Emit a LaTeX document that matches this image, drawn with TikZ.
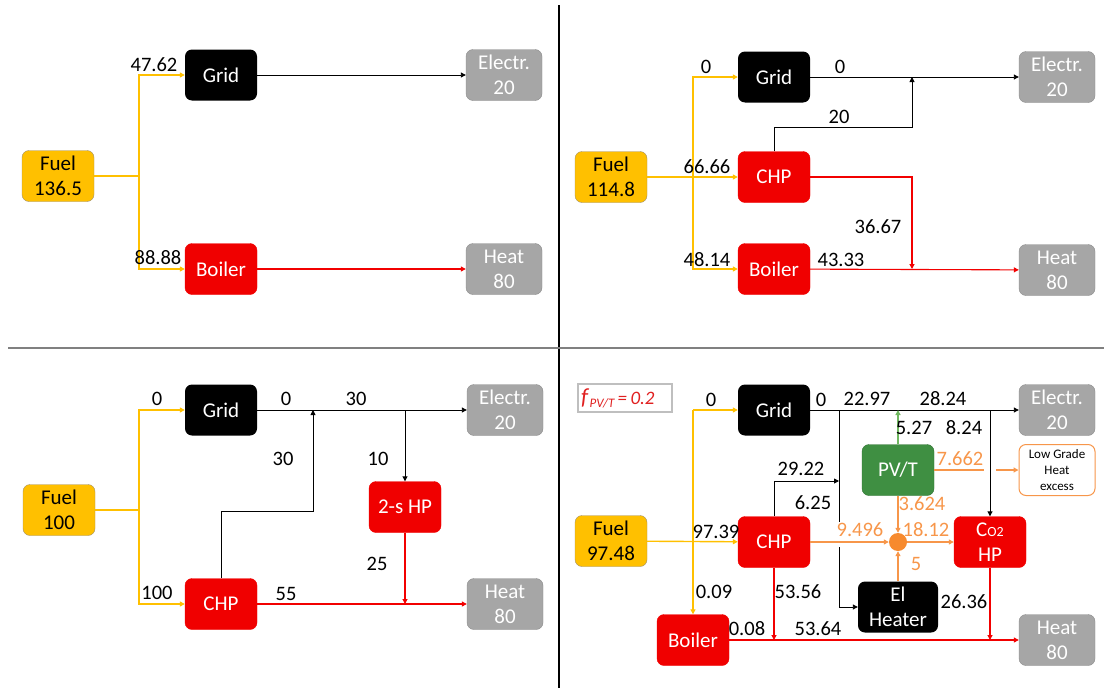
\documentclass[tikz,border=0pt]{standalone}
\usepackage{fontspec}
\setmainfont{Carlito}
\usetikzlibrary{arrows.meta, positioning, calc}

\definecolor{fuelyellow}{HTML}{FFC000}
\definecolor{fuelborder}{HTML}{A0906A}
\definecolor{unitred}{HTML}{F00000}
\definecolor{heatred}{HTML}{F20000}
\definecolor{sinkgray}{HTML}{A6A6A6}
\definecolor{sinkborder}{HTML}{8C8C8C}
\definecolor{pvgreen}{HTML}{3F8F42}
\definecolor{pvborder}{HTML}{2F7032}
\definecolor{pvline}{HTML}{70B860}
\definecolor{lowheat}{HTML}{F7964A}
\definecolor{mixorange}{HTML}{F78A2E}
\definecolor{legendred}{HTML}{E02020}

\begin{document}
\begin{tikzpicture}[x=1pt, y=-1pt,
		box/.style={rectangle, rounded corners=7pt, minimum width=72pt, minimum height=51pt, align=center, inner sep=0pt, font=\fontsize{21}{25}\selectfont},
		fuel/.style={box, fill=fuelyellow, draw=fuelborder, text=black},
		gridbox/.style={box, fill=black, text=white},
		redbox/.style={box, fill=unitred, draw=unitred, text=white},
		sinkbox/.style={box, fill=sinkgray, draw=sinkborder, text=white, minimum width=76pt},
		pvtbox/.style={box, fill=pvgreen, draw=pvborder, text=white},
		excessbox/.style={box, fill=white, draw=lowheat, line width=1pt, minimum width=76pt, font=\fontsize{13}{16}\selectfont},
		mixer/.style={circle, fill=mixorange, minimum size=18pt, inner sep=0pt},
		legendbox/.style={draw=gray!50, line width=1.2pt, minimum height=28pt, inner xsep=3pt, text width=88pt, align=left, text=legendred},
		val/.style={inner sep=0pt, font=\fontsize{20.5}{22}\selectfont},
		oval/.style={val, text=lowheat},
		fuelline/.style={draw=fuelyellow, line width=1.4pt},
		elline/.style={draw=black, line width=0.9pt},
		heatline/.style={draw=heatred, line width=1.1pt},
		lhline/.style={draw=lowheat, line width=1.4pt},
		greenline/.style={draw=pvline, line width=1.2pt},
		arrow/.style={-{Triangle[length=5pt, width=5pt]}}
		]
		\useasboundingbox (0,0) rectangle (1104,688);
		
		% Dividers
		\draw[black, line width=1.3pt] (559,5) -- (559,688);
		\draw[gray, line width=1.3pt] (8,348) -- (1104,348);
		
		% Top left: nodes
		\node[fuel] (fuelA) at (58,176) {Fuel\\136.5};
		\node[gridbox] (gridA) at (221,75) {Grid};
		\node[redbox] (boilerA) at (221,269) {Boiler};
		\node[sinkbox] (elA) at (504,75) {Electr.\\20};
		\node[sinkbox] (heatA) at (504,269) {Heat\\80};
		\coordinate (splitA) at (139,176);
		
		% Top left: arrows
		\draw[fuelline] (fuelA) -- (splitA);
		\draw[fuelline, arrow] (splitA) |- (gridA);
		\draw[fuelline, arrow] (splitA) |- (boilerA);
		\draw[elline, arrow] (gridA) -- (elA);
		\draw[heatline, arrow] (boilerA) -- (heatA);
		\node[val] (vA1) at (154,65) {47.62};
		\node[val] (vA2) at (158,258) {88.88};
		
		% Top right: nodes
		\node[fuel] (fuelB) at (611,177) {Fuel\\114.8};
		\node[gridbox] (gridB) at (774,77) {Grid};
		\node[redbox] (chpB) at (774,177) {CHP};
		\node[redbox] (boilerB) at (774,269) {Boiler};
		\node[sinkbox] (elB) at (1057,77) {Electr.\\20};
		\node[sinkbox] (heatB) at (1057,270) {Heat\\80};
		\coordinate (busB) at (693,177);
		\coordinate (kneeB) at (912,127);
		\coordinate (jElB) at (912,77);
		\coordinate (jHeatB) at (912,269);
		
		% Top right: arrows
		\draw[fuelline, arrow] (fuelB) -- (chpB);
		\draw[fuelline, arrow] (busB) |- (gridB);
		\draw[fuelline, arrow] (busB) |- (boilerB);
		\draw[elline, arrow] (gridB) -- (elB);
		\draw[elline, arrow] (chpB.north) |- (kneeB) -- (jElB);
		\draw[heatline, arrow] (chpB) -| (jHeatB);
		\draw[heatline, arrow] (boilerB) -- (heatB);
		\node[val] (vB1) at (706,67) {0};
		\node[val] (vB2) at (840,67) {0};
		\node[val] (vB3) at (839,117) {20};
		\node[val] (vB4) at (707,167) {66.66};
		\node[val] (vB5) at (878,227) {36.67};
		\node[val] (vB6) at (707,260) {48.14};
		\node[val] (vB7) at (841,260) {43.33};
		
		% Bottom left: nodes
		\node[fuel] (fuelC) at (59,510) {Fuel\\100};
		\node[gridbox] (gridC) at (221,410) {Grid};
		\node[redbox] (chpC) at (221,604) {CHP};
		\node[redbox] (hpC) at (405,507) {2-s HP};
		\node[sinkbox] (elC) at (505,410) {Electr.\\20};
		\node[sinkbox] (heatC) at (505,604) {Heat\\80};
		\coordinate (splitC) at (139,510);
		\coordinate (kneeC) at (313,511);
		\coordinate (jElC) at (313,410);
		\coordinate (tapC) at (405,410);
		\coordinate (jHeatC) at (405,604);
		
		% Bottom left: arrows
		\draw[fuelline] (fuelC) -- (splitC);
		\draw[fuelline, arrow] (splitC) |- (gridC);
		\draw[fuelline, arrow] (splitC) |- (chpC);
		\draw[elline, arrow] (gridC) -- (elC);
		\draw[elline, arrow] (chpC.north) |- (kneeC) -- (jElC);
		\draw[elline, arrow] (tapC) -- (hpC);
		\draw[heatline, arrow] (hpC) -- (jHeatC);
		\draw[heatline, arrow] (chpC) -- (heatC);
		\node[val] (vC1) at (157,399) {0};
		\node[val] (vC2) at (286,399) {0};
		\node[val] (vC3) at (356,399) {30};
		\node[val] (vC4) at (283,459) {30};
		\node[val] (vC5) at (378,459) {10};
		\node[val] (vC6) at (377,564) {25};
		\node[val] (vC7) at (157,593) {100};
		\node[val] (vC8) at (286,594) {55};
		
		% Bottom right: nodes
		\node[legendbox] (fD) at (625,398) {\itshape{\fontsize{23}{23}\selectfont f}\,\raisebox{-3pt}{\fontsize{13}{13}\selectfont PV/T} {\fontsize{19}{19}\selectfont = 0.2}};
		\node[fuel] (fuelD) at (611,541) {Fuel\\97.48};
		\node[gridbox] (gridD) at (774,410) {Grid};
		\node[redbox] (chpD) at (774,542) {CHP};
		\node[redbox] (boilerD) at (693,640) {Boiler};
		\node[sinkbox] (elD) at (1057,410) {Electr.\\20};
		\node[sinkbox] (heatD) at (1057,640) {Heat\\80};
		\node[pvtbox] (pvtD) at (898,470) {PV/T};
		\node[redbox] (hpD) at (990,542) {C{\fontsize{14}{14}\selectfont O2}\\HP};
		\node[gridbox, minimum width=80pt] (ehD) at (898,607) {El\\Heater};
		\node[excessbox] (lowD) at (1057,470) {Low Grade\\Heat\\excess};
		\node[mixer] (mixD) at (898,542) {};
		\coordinate (busD) at (693,410);
		\coordinate (tapD1) at (839,410);
		\coordinate (gapD1) at (839,522);
		\coordinate (gapD2) at (839,547);
		\coordinate (jChpD) at (839,481);
		\coordinate (jPvD) at (898,410);
		\coordinate (tapD2) at (990,410);
		\coordinate (gapD3) at (984,470);
		\coordinate (gapD4) at (996,470);
		\coordinate (jHeatD1) at (774,640);
		\coordinate (jHeatD2) at (990,640);
		
		% Bottom right: arrows
		\draw[fuelline, arrow] (fuelD) -- (chpD);
		\draw[fuelline, arrow] (busD) -- (gridD);
		\draw[fuelline, arrow] (busD) -- (boilerD);
		\draw[elline, arrow] (gridD) -- (elD);
		\draw[elline] (tapD1) -- (gapD1);
		\draw[elline, arrow] (gapD2) |- (ehD);
		\draw[elline, arrow] (chpD.north) |- (jChpD);
		\draw[elline, arrow] (tapD2) -- (hpD);
		\draw[greenline, arrow] (pvtD) -- (jPvD);
		\draw[lhline] (pvtD) -- (gapD3);
		\draw[lhline, arrow] (gapD4) -- (lowD);
		\draw[lhline, arrow] (pvtD) -- (mixD);
		\draw[lhline, arrow] (chpD) -- (mixD);
		\draw[lhline, arrow] (ehD) -- (mixD);
		\draw[lhline, arrow] (mixD) -- (hpD);
		\draw[heatline, arrow] (chpD) -- (jHeatD1);
		\draw[heatline, arrow] (hpD) -- (jHeatD2);
		\draw[heatline, arrow] (boilerD) -- (heatD);
		\node[val] (vD1) at (711,400) {0};
		\node[val] (vD2) at (821,400) {0};
		\node[val] (vD3) at (867,399) {22.97};
		\node[val] (vD4) at (943,399) {28.24};
		\node[val] (vD5) at (801,469) {29.22};
		\node[val] (vD6) at (813,503) {6.25};
		\node[val] (vD7) at (716,532) {97.39};
		\node[val] (vD8) at (714,592) {0.09};
		\node[val] (vD9) at (798,592) {53.56};
		\node[val] (vD10) at (747,629) {0.08};
		\node[val] (vD11) at (818,629) {53.64};
		\node[val] (vD12) at (914,428) {5.27};
		\node[val] (vD13) at (964,428) {8.24};
		\node[oval] (vD14) at (960,459) {7.662};
		\node[oval] (vD15) at (922,504) {3.624};
		\node[oval] (vD16) at (860,530) {9.496};
		\node[oval] (vD17) at (926,530) {18.12};
		\node[oval] (vD18) at (916,564) {5};
		\node[val] (vD19) at (964,602) {26.36};
		
	\end{tikzpicture}
\end{document}
